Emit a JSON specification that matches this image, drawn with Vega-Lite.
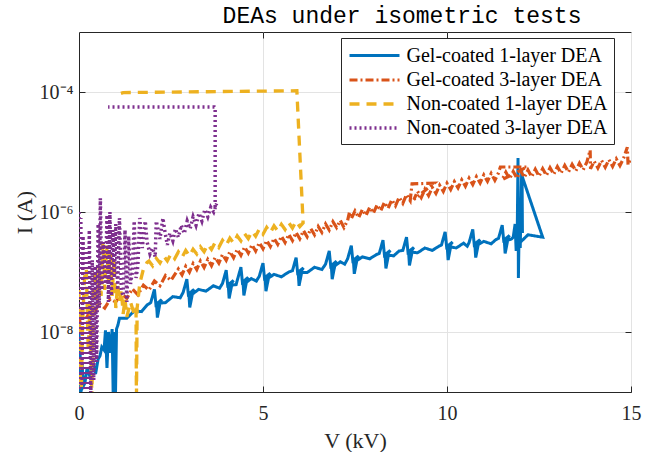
{
"$schema": "https://vega.github.io/schema/vega-lite/v6.json",
"width": 552, "height": 360,
"autosize": "none",
"padding": {"left": 79, "top": 32, "right": 18, "bottom": 60},
"background": "white",
"title": {"text": "DEAs under isometric tests", "font": "Liberation Mono", "fontSize": 23, "fontWeight": "normal", "color": "#000000", "anchor": "middle", "dx": 47, "offset": -14, "baseline": "alphabetic"},
"config": {
  "view": {"stroke": "#262626", "strokeWidth": 1},
  "axis": {"labelFont": "Liberation Serif", "titleFont": "Liberation Serif", "labelFontSize": 20, "titleFontSize": 22, "titleFontWeight": "normal", "labelColor": "#262626", "titleColor": "#262626", "domainColor": "#262626", "tickColor": "#262626", "gridColor": "#e3e3e3", "gridWidth": 1, "tickSize": -6, "tickWidth": 1, "labelFlush": false},
  "legend": {"orient": "none", "legendX": 262, "legendY": 6, "title": null, "symbolType": "M-2.5,0H2.5", "symbolSize": 400, "symbolStrokeWidth": 2.5, "labelFont": "Liberation Serif", "labelFontSize": 20, "labelColor": "#000000", "labelLimit": 300, "strokeColor": "#262626", "fillColor": "#ffffff", "padding": 6, "rowPadding": 2, "labelOffset": 20, "symbolOffset": 15.5}
},
"layer": [
{
"data": {"values": [
{"s":"Gel-coated 1-layer DEA","V":0.00,"I":1.78e-8},{"s":"Gel-coated 1-layer DEA","V":0.01,"I":7.94e-10},{"s":"Gel-coated 1-layer DEA","V":0.03,"I":5.01e-9},{"s":"Gel-coated 1-layer DEA","V":0.05,"I":7.94e-10},{"s":"Gel-coated 1-layer DEA","V":0.08,"I":3.16e-9},{"s":"Gel-coated 1-layer DEA","V":0.12,"I":1.26e-9},{"s":"Gel-coated 1-layer DEA","V":0.16,"I":1.41e-9},{"s":"Gel-coated 1-layer DEA","V":0.22,"I":2.51e-9},{"s":"Gel-coated 1-layer DEA","V":0.30,"I":1.78e-9},{"s":"Gel-coated 1-layer DEA","V":0.38,"I":3.16e-9},{"s":"Gel-coated 1-layer DEA","V":0.45,"I":2.0e-9},{"s":"Gel-coated 1-layer DEA","V":0.52,"I":3.55e-9},{"s":"Gel-coated 1-layer DEA","V":0.57,"I":3.98e-9},{"s":"Gel-coated 1-layer DEA","V":0.62,"I":5.62e-9},{"s":"Gel-coated 1-layer DEA","V":0.68,"I":5.01e-9},{"s":"Gel-coated 1-layer DEA","V":0.72,"I":1.07e-8},{"s":"Gel-coated 1-layer DEA","V":0.76,"I":2.51e-9},{"s":"Gel-coated 1-layer DEA","V":0.80,"I":1.0e-8},{"s":"Gel-coated 1-layer DEA","V":0.85,"I":4.47e-9},{"s":"Gel-coated 1-layer DEA","V":0.90,"I":1.12e-8},{"s":"Gel-coated 1-layer DEA","V":0.93,"I":7.94e-10},{"s":"Gel-coated 1-layer DEA","V":0.96,"I":1.0e-8},{"s":"Gel-coated 1-layer DEA","V":0.99,"I":7.94e-10},{"s":"Gel-coated 1-layer DEA","V":1.02,"I":1.12e-8},{"s":"Gel-coated 1-layer DEA","V":1.06,"I":1.32e-8},{"s":"Gel-coated 1-layer DEA","V":1.10,"I":1.70e-8},{"s":"Gel-coated 1-layer DEA","V":1.30,"I":1.70e-8},{"s":"Gel-coated 1-layer DEA","V":1.50,"I":2.24e-8},{"s":"Gel-coated 1-layer DEA","V":1.70,"I":2.19e-8},{"s":"Gel-coated 1-layer DEA","V":1.85,"I":2.82e-8},
{"s":"Gel-coated 1-layer DEA","V":1.95,"I":3.09e-8},{"s":"Gel-coated 1-layer DEA","V":2.05,"I":5.13e-8},{"s":"Gel-coated 1-layer DEA","V":2.09,"I":2.88e-8},{"s":"Gel-coated 1-layer DEA","V":2.25,"I":3.47e-8},{"s":"Gel-coated 1-layer DEA","V":2.11,"I":2.69e-8},{"s":"Gel-coated 1-layer DEA","V":2.13,"I":1.74e-8},{"s":"Gel-coated 1-layer DEA","V":2.20,"I":3.02e-8},
{"s":"Gel-coated 1-layer DEA","V":2.35,"I":3.09e-8},{"s":"Gel-coated 1-layer DEA","V":2.55,"I":3.89e-8},{"s":"Gel-coated 1-layer DEA","V":2.75,"I":3.72e-8},
{"s":"Gel-coated 1-layer DEA","V":2.83,"I":4.57e-8},{"s":"Gel-coated 1-layer DEA","V":2.93,"I":7.59e-8},{"s":"Gel-coated 1-layer DEA","V":2.97,"I":4.27e-8},{"s":"Gel-coated 1-layer DEA","V":3.13,"I":5.13e-8},{"s":"Gel-coated 1-layer DEA","V":2.99,"I":3.98e-8},{"s":"Gel-coated 1-layer DEA","V":3.01,"I":2.57e-8},{"s":"Gel-coated 1-layer DEA","V":3.08,"I":4.27e-8},
{"s":"Gel-coated 1-layer DEA","V":3.25,"I":5.13e-8},{"s":"Gel-coated 1-layer DEA","V":3.45,"I":4.79e-8},{"s":"Gel-coated 1-layer DEA","V":3.65,"I":5.89e-8},{"s":"Gel-coated 1-layer DEA","V":3.82,"I":5.37e-8},
{"s":"Gel-coated 1-layer DEA","V":3.90,"I":6.46e-8},{"s":"Gel-coated 1-layer DEA","V":4.00,"I":1.07e-7},{"s":"Gel-coated 1-layer DEA","V":4.04,"I":6.03e-8},{"s":"Gel-coated 1-layer DEA","V":4.20,"I":7.24e-8},{"s":"Gel-coated 1-layer DEA","V":4.06,"I":5.62e-8},{"s":"Gel-coated 1-layer DEA","V":4.08,"I":3.63e-8},{"s":"Gel-coated 1-layer DEA","V":4.15,"I":6.03e-8},
{"s":"Gel-coated 1-layer DEA","V":4.27,"I":6.17e-8},
{"s":"Gel-coated 1-layer DEA","V":4.30,"I":7.24e-8},{"s":"Gel-coated 1-layer DEA","V":4.40,"I":1.20e-7},{"s":"Gel-coated 1-layer DEA","V":4.44,"I":6.76e-8},{"s":"Gel-coated 1-layer DEA","V":4.60,"I":8.13e-8},{"s":"Gel-coated 1-layer DEA","V":4.46,"I":6.31e-8},{"s":"Gel-coated 1-layer DEA","V":4.48,"I":4.07e-8},{"s":"Gel-coated 1-layer DEA","V":4.55,"I":6.76e-8},
{"s":"Gel-coated 1-layer DEA","V":4.68,"I":7.76e-8},{"s":"Gel-coated 1-layer DEA","V":4.82,"I":7.08e-8},
{"s":"Gel-coated 1-layer DEA","V":4.90,"I":8.51e-8},{"s":"Gel-coated 1-layer DEA","V":5.00,"I":1.41e-7},{"s":"Gel-coated 1-layer DEA","V":5.04,"I":7.94e-8},{"s":"Gel-coated 1-layer DEA","V":5.20,"I":9.55e-8},{"s":"Gel-coated 1-layer DEA","V":5.06,"I":7.41e-8},{"s":"Gel-coated 1-layer DEA","V":5.08,"I":4.79e-8},{"s":"Gel-coated 1-layer DEA","V":5.15,"I":7.94e-8},
{"s":"Gel-coated 1-layer DEA","V":5.30,"I":9.12e-8},{"s":"Gel-coated 1-layer DEA","V":5.50,"I":8.32e-8},{"s":"Gel-coated 1-layer DEA","V":5.70,"I":1.0e-7},
{"s":"Gel-coated 1-layer DEA","V":5.80,"I":1.05e-7},{"s":"Gel-coated 1-layer DEA","V":5.90,"I":1.74e-7},{"s":"Gel-coated 1-layer DEA","V":5.94,"I":9.77e-8},{"s":"Gel-coated 1-layer DEA","V":6.10,"I":1.17e-7},{"s":"Gel-coated 1-layer DEA","V":5.96,"I":9.12e-8},{"s":"Gel-coated 1-layer DEA","V":5.98,"I":5.89e-8},{"s":"Gel-coated 1-layer DEA","V":6.05,"I":9.77e-8},
{"s":"Gel-coated 1-layer DEA","V":6.20,"I":9.77e-8},{"s":"Gel-coated 1-layer DEA","V":6.40,"I":1.20e-7},{"s":"Gel-coated 1-layer DEA","V":6.60,"I":1.10e-7},
{"s":"Gel-coated 1-layer DEA","V":6.70,"I":1.35e-7},{"s":"Gel-coated 1-layer DEA","V":6.80,"I":2.24e-7},{"s":"Gel-coated 1-layer DEA","V":6.84,"I":1.26e-7},{"s":"Gel-coated 1-layer DEA","V":7.00,"I":1.51e-7},{"s":"Gel-coated 1-layer DEA","V":6.86,"I":1.17e-7},{"s":"Gel-coated 1-layer DEA","V":6.88,"I":7.59e-8},{"s":"Gel-coated 1-layer DEA","V":6.95,"I":1.26e-7},
{"s":"Gel-coated 1-layer DEA","V":7.10,"I":1.48e-7},{"s":"Gel-coated 1-layer DEA","V":7.22,"I":1.35e-7},
{"s":"Gel-coated 1-layer DEA","V":7.30,"I":1.66e-7},{"s":"Gel-coated 1-layer DEA","V":7.40,"I":2.75e-7},{"s":"Gel-coated 1-layer DEA","V":7.44,"I":1.55e-7},{"s":"Gel-coated 1-layer DEA","V":7.60,"I":1.86e-7},{"s":"Gel-coated 1-layer DEA","V":7.46,"I":1.45e-7},{"s":"Gel-coated 1-layer DEA","V":7.48,"I":9.33e-8},{"s":"Gel-coated 1-layer DEA","V":7.55,"I":1.55e-7},
{"s":"Gel-coated 1-layer DEA","V":7.70,"I":1.78e-7},{"s":"Gel-coated 1-layer DEA","V":7.90,"I":1.66e-7},{"s":"Gel-coated 1-layer DEA","V":8.08,"I":1.95e-7},
{"s":"Gel-coated 1-layer DEA","V":8.16,"I":2.04e-7},{"s":"Gel-coated 1-layer DEA","V":8.26,"I":3.39e-7},{"s":"Gel-coated 1-layer DEA","V":8.30,"I":1.91e-7},{"s":"Gel-coated 1-layer DEA","V":8.46,"I":2.29e-7},{"s":"Gel-coated 1-layer DEA","V":8.32,"I":1.78e-7},{"s":"Gel-coated 1-layer DEA","V":8.34,"I":1.15e-7},{"s":"Gel-coated 1-layer DEA","V":8.41,"I":1.91e-7},
{"s":"Gel-coated 1-layer DEA","V":8.55,"I":1.86e-7},{"s":"Gel-coated 1-layer DEA","V":8.70,"I":2.24e-7},
{"s":"Gel-coated 1-layer DEA","V":8.80,"I":2.29e-7},{"s":"Gel-coated 1-layer DEA","V":8.90,"I":3.80e-7},{"s":"Gel-coated 1-layer DEA","V":8.94,"I":2.14e-7},{"s":"Gel-coated 1-layer DEA","V":9.10,"I":2.57e-7},{"s":"Gel-coated 1-layer DEA","V":8.96,"I":2.0e-7},{"s":"Gel-coated 1-layer DEA","V":8.98,"I":1.29e-7},{"s":"Gel-coated 1-layer DEA","V":9.05,"I":2.14e-7},
{"s":"Gel-coated 1-layer DEA","V":9.20,"I":2.09e-7},{"s":"Gel-coated 1-layer DEA","V":9.40,"I":2.51e-7},{"s":"Gel-coated 1-layer DEA","V":9.60,"I":2.29e-7},{"s":"Gel-coated 1-layer DEA","V":9.78,"I":2.69e-7},
{"s":"Gel-coated 1-layer DEA","V":9.85,"I":2.82e-7},{"s":"Gel-coated 1-layer DEA","V":9.95,"I":4.68e-7},{"s":"Gel-coated 1-layer DEA","V":9.99,"I":2.63e-7},{"s":"Gel-coated 1-layer DEA","V":10.15,"I":3.16e-7},{"s":"Gel-coated 1-layer DEA","V":10.01,"I":2.45e-7},{"s":"Gel-coated 1-layer DEA","V":10.03,"I":1.58e-7},{"s":"Gel-coated 1-layer DEA","V":10.10,"I":2.63e-7},
{"s":"Gel-coated 1-layer DEA","V":10.25,"I":2.51e-7},{"s":"Gel-coated 1-layer DEA","V":10.45,"I":3.02e-7},{"s":"Gel-coated 1-layer DEA","V":10.55,"I":2.69e-7},
{"s":"Gel-coated 1-layer DEA","V":10.60,"I":3.09e-7},{"s":"Gel-coated 1-layer DEA","V":10.70,"I":5.13e-7},{"s":"Gel-coated 1-layer DEA","V":10.74,"I":2.88e-7},{"s":"Gel-coated 1-layer DEA","V":10.90,"I":3.47e-7},{"s":"Gel-coated 1-layer DEA","V":10.76,"I":2.69e-7},{"s":"Gel-coated 1-layer DEA","V":10.78,"I":1.74e-7},{"s":"Gel-coated 1-layer DEA","V":10.85,"I":2.88e-7},
{"s":"Gel-coated 1-layer DEA","V":11.00,"I":3.24e-7},{"s":"Gel-coated 1-layer DEA","V":11.20,"I":2.95e-7},{"s":"Gel-coated 1-layer DEA","V":11.33,"I":3.47e-7},
{"s":"Gel-coated 1-layer DEA","V":11.40,"I":3.63e-7},{"s":"Gel-coated 1-layer DEA","V":11.50,"I":6.03e-7},{"s":"Gel-coated 1-layer DEA","V":11.54,"I":3.39e-7},{"s":"Gel-coated 1-layer DEA","V":11.70,"I":4.07e-7},{"s":"Gel-coated 1-layer DEA","V":11.56,"I":3.16e-7},{"s":"Gel-coated 1-layer DEA","V":11.58,"I":2.04e-7},{"s":"Gel-coated 1-layer DEA","V":11.65,"I":3.39e-7},
{"s":"Gel-coated 1-layer DEA","V":11.75,"I":3.55e-7},{"s":"Gel-coated 1-layer DEA","V":11.80,"I":3.80e-7},
{"s":"Gel-coated 1-layer DEA","V":11.85,"I":6.31e-7},{"s":"Gel-coated 1-layer DEA","V":11.88,"I":2.24e-7},{"s":"Gel-coated 1-layer DEA","V":11.91,"I":5.62e-7},{"s":"Gel-coated 1-layer DEA","V":11.93,"I":7.94e-6},{"s":"Gel-coated 1-layer DEA","V":11.94,"I":7.94e-8},{"s":"Gel-coated 1-layer DEA","V":11.96,"I":5.01e-7},{"s":"Gel-coated 1-layer DEA","V":11.99,"I":2.51e-7},{"s":"Gel-coated 1-layer DEA","V":12.03,"I":5.01e-6},{"s":"Gel-coated 1-layer DEA","V":12.05,"I":4.47e-7},{"s":"Gel-coated 1-layer DEA","V":12.04,"I":3.98e-6},{"s":"Gel-coated 1-layer DEA","V":12.60,"I":3.80e-7},{"s":"Gel-coated 1-layer DEA","V":12.20,"I":4.17e-7},{"s":"Gel-coated 1-layer DEA","V":12.00,"I":3.16e-7},{"s":"Gel-coated 1-layer DEA","V":11.95,"I":3.98e-7},

{"s":"Gel-coated 3-layer DEA","V":0.00,"I":1.78e-8},{"s":"Gel-coated 3-layer DEA","V":0.05,"I":1.26e-8},{"s":"Gel-coated 3-layer DEA","V":0.10,"I":2.09e-8},{"s":"Gel-coated 3-layer DEA","V":0.20,"I":1.58e-8},{"s":"Gel-coated 3-layer DEA","V":0.30,"I":2.51e-8},{"s":"Gel-coated 3-layer DEA","V":0.43,"I":2.19e-8},{"s":"Gel-coated 3-layer DEA","V":0.55,"I":3.02e-8},{"s":"Gel-coated 3-layer DEA","V":0.70,"I":2.51e-8},{"s":"Gel-coated 3-layer DEA","V":0.85,"I":3.55e-8},{"s":"Gel-coated 3-layer DEA","V":1.00,"I":3.16e-8},{"s":"Gel-coated 3-layer DEA","V":1.15,"I":4.37e-8},{"s":"Gel-coated 3-layer DEA","V":1.30,"I":3.63e-8},{"s":"Gel-coated 3-layer DEA","V":1.45,"I":5.25e-8},{"s":"Gel-coated 3-layer DEA","V":1.60,"I":4.17e-8},{"s":"Gel-coated 3-layer DEA","V":1.75,"I":6.03e-8},{"s":"Gel-coated 3-layer DEA","V":1.90,"I":5.01e-8},{"s":"Gel-coated 3-layer DEA","V":2.05,"I":7.08e-8},{"s":"Gel-coated 3-layer DEA","V":2.20,"I":5.89e-8},{"s":"Gel-coated 3-layer DEA","V":2.35,"I":8.71e-8},{"s":"Gel-coated 3-layer DEA","V":2.50,"I":7.24e-8},
{"s":"Gel-coated 3-layer DEA","V":2.70,"I":1.12e-7},{"s":"Gel-coated 3-layer DEA","V":2.80,"I":8.97e-8},{"s":"Gel-coated 3-layer DEA","V":2.90,"I":1.24e-7},{"s":"Gel-coated 3-layer DEA","V":3.00,"I":9.93e-8},{"s":"Gel-coated 3-layer DEA","V":3.10,"I":1.38e-7},{"s":"Gel-coated 3-layer DEA","V":3.20,"I":1.10e-7},{"s":"Gel-coated 3-layer DEA","V":3.30,"I":1.52e-7},{"s":"Gel-coated 3-layer DEA","V":3.40,"I":1.19e-7},{"s":"Gel-coated 3-layer DEA","V":3.50,"I":1.62e-7},{"s":"Gel-coated 3-layer DEA","V":3.60,"I":1.27e-7},{"s":"Gel-coated 3-layer DEA","V":3.70,"I":1.75e-7},{"s":"Gel-coated 3-layer DEA","V":3.80,"I":1.41e-7},{"s":"Gel-coated 3-layer DEA","V":3.90,"I":1.96e-7},{"s":"Gel-coated 3-layer DEA","V":4.00,"I":1.57e-7},{"s":"Gel-coated 3-layer DEA","V":4.10,"I":2.19e-7},{"s":"Gel-coated 3-layer DEA","V":4.20,"I":1.73e-7},{"s":"Gel-coated 3-layer DEA","V":4.30,"I":2.39e-7},{"s":"Gel-coated 3-layer DEA","V":4.40,"I":1.90e-7},{"s":"Gel-coated 3-layer DEA","V":4.50,"I":2.61e-7},{"s":"Gel-coated 3-layer DEA","V":4.60,"I":2.07e-7},{"s":"Gel-coated 3-layer DEA","V":4.70,"I":2.84e-7},{"s":"Gel-coated 3-layer DEA","V":4.80,"I":2.24e-7},{"s":"Gel-coated 3-layer DEA","V":4.90,"I":3.08e-7},{"s":"Gel-coated 3-layer DEA","V":5.00,"I":2.44e-7},{"s":"Gel-coated 3-layer DEA","V":5.10,"I":3.35e-7},{"s":"Gel-coated 3-layer DEA","V":5.20,"I":2.65e-7},{"s":"Gel-coated 3-layer DEA","V":5.30,"I":3.64e-7},{"s":"Gel-coated 3-layer DEA","V":5.40,"I":2.88e-7},{"s":"Gel-coated 3-layer DEA","V":5.50,"I":3.94e-7},{"s":"Gel-coated 3-layer DEA","V":5.60,"I":3.10e-7},{"s":"Gel-coated 3-layer DEA","V":5.70,"I":4.24e-7},{"s":"Gel-coated 3-layer DEA","V":5.80,"I":3.33e-7},{"s":"Gel-coated 3-layer DEA","V":5.90,"I":4.56e-7},{"s":"Gel-coated 3-layer DEA","V":6.00,"I":3.58e-7},{"s":"Gel-coated 3-layer DEA","V":6.10,"I":4.90e-7},{"s":"Gel-coated 3-layer DEA","V":6.20,"I":3.85e-7},{"s":"Gel-coated 3-layer DEA","V":6.30,"I":5.26e-7},{"s":"Gel-coated 3-layer DEA","V":6.40,"I":4.15e-7},{"s":"Gel-coated 3-layer DEA","V":6.50,"I":5.73e-7},{"s":"Gel-coated 3-layer DEA","V":6.60,"I":4.56e-7},{"s":"Gel-coated 3-layer DEA","V":6.70,"I":6.30e-7},{"s":"Gel-coated 3-layer DEA","V":6.80,"I":5.00e-7},{"s":"Gel-coated 3-layer DEA","V":6.90,"I":6.92e-7},{"s":"Gel-coated 3-layer DEA","V":7.00,"I":5.50e-7},{"s":"Gel-coated 3-layer DEA","V":7.10,"I":7.24e-7},{"s":"Gel-coated 3-layer DEA","V":7.20,"I":5.50e-7},{"s":"Gel-coated 3-layer DEA","V":7.30,"I":7.24e-7},{"s":"Gel-coated 3-layer DEA","V":7.35,"I":1.0e-6},{"s":"Gel-coated 3-layer DEA","V":7.40,"I":7.76e-7},{"s":"Gel-coated 3-layer DEA","V":7.50,"I":1.04e-6},{"s":"Gel-coated 3-layer DEA","V":7.60,"I":8.07e-7},{"s":"Gel-coated 3-layer DEA","V":7.70,"I":1.10e-6},{"s":"Gel-coated 3-layer DEA","V":7.80,"I":8.73e-7},{"s":"Gel-coated 3-layer DEA","V":7.90,"I":1.20e-6},{"s":"Gel-coated 3-layer DEA","V":8.00,"I":9.57e-7},{"s":"Gel-coated 3-layer DEA","V":8.10,"I":1.32e-6},{"s":"Gel-coated 3-layer DEA","V":8.20,"I":1.05e-6},{"s":"Gel-coated 3-layer DEA","V":8.30,"I":1.45e-6},{"s":"Gel-coated 3-layer DEA","V":8.40,"I":1.15e-6},{"s":"Gel-coated 3-layer DEA","V":8.50,"I":1.60e-6},{"s":"Gel-coated 3-layer DEA","V":8.60,"I":1.27e-6},{"s":"Gel-coated 3-layer DEA","V":8.70,"I":1.76e-6},{"s":"Gel-coated 3-layer DEA","V":8.80,"I":1.40e-6},{"s":"Gel-coated 3-layer DEA","V":8.90,"I":1.95e-6},{"s":"Gel-coated 3-layer DEA","V":9.00,"I":1.55e-6},{"s":"Gel-coated 3-layer DEA","V":9.05,"I":2.95e-6},{"s":"Gel-coated 3-layer DEA","V":9.65,"I":3.02e-6},{"s":"Gel-coated 3-layer DEA","V":9.10,"I":1.61e-6},{"s":"Gel-coated 3-layer DEA","V":9.20,"I":2.21e-6},{"s":"Gel-coated 3-layer DEA","V":9.30,"I":1.74e-6},{"s":"Gel-coated 3-layer DEA","V":9.40,"I":2.39e-6},{"s":"Gel-coated 3-layer DEA","V":9.50,"I":1.88e-6},{"s":"Gel-coated 3-layer DEA","V":9.60,"I":2.58e-6},{"s":"Gel-coated 3-layer DEA","V":9.70,"I":2.04e-6},{"s":"Gel-coated 3-layer DEA","V":9.80,"I":2.79e-6},{"s":"Gel-coated 3-layer DEA","V":9.90,"I":2.20e-6},{"s":"Gel-coated 3-layer DEA","V":10.00,"I":3.02e-6},{"s":"Gel-coated 3-layer DEA","V":10.10,"I":2.37e-6},{"s":"Gel-coated 3-layer DEA","V":10.20,"I":3.21e-6},{"s":"Gel-coated 3-layer DEA","V":10.30,"I":2.52e-6},{"s":"Gel-coated 3-layer DEA","V":10.40,"I":3.43e-6},{"s":"Gel-coated 3-layer DEA","V":10.50,"I":2.68e-6},{"s":"Gel-coated 3-layer DEA","V":10.60,"I":3.65e-6},{"s":"Gel-coated 3-layer DEA","V":10.70,"I":2.86e-6},{"s":"Gel-coated 3-layer DEA","V":10.80,"I":3.88e-6},{"s":"Gel-coated 3-layer DEA","V":10.90,"I":3.04e-6},{"s":"Gel-coated 3-layer DEA","V":11.00,"I":4.14e-6},{"s":"Gel-coated 3-layer DEA","V":11.10,"I":3.24e-6},{"s":"Gel-coated 3-layer DEA","V":11.20,"I":4.39e-6},{"s":"Gel-coated 3-layer DEA","V":11.30,"I":3.37e-6},{"s":"Gel-coated 3-layer DEA","V":11.40,"I":4.50e-6},{"s":"Gel-coated 3-layer DEA","V":11.45,"I":5.62e-6},{"s":"Gel-coated 3-layer DEA","V":12.17,"I":5.62e-6},{"s":"Gel-coated 3-layer DEA","V":11.50,"I":3.46e-6},{"s":"Gel-coated 3-layer DEA","V":11.60,"I":4.62e-6},{"s":"Gel-coated 3-layer DEA","V":11.70,"I":3.56e-6},{"s":"Gel-coated 3-layer DEA","V":11.80,"I":4.75e-6},{"s":"Gel-coated 3-layer DEA","V":11.90,"I":3.65e-6},{"s":"Gel-coated 3-layer DEA","V":12.00,"I":4.88e-6},{"s":"Gel-coated 3-layer DEA","V":12.10,"I":3.75e-6},{"s":"Gel-coated 3-layer DEA","V":12.20,"I":5.01e-6},{"s":"Gel-coated 3-layer DEA","V":12.30,"I":3.85e-6},{"s":"Gel-coated 3-layer DEA","V":12.40,"I":5.14e-6},{"s":"Gel-coated 3-layer DEA","V":12.50,"I":3.95e-6},{"s":"Gel-coated 3-layer DEA","V":12.60,"I":5.28e-6},{"s":"Gel-coated 3-layer DEA","V":12.70,"I":4.06e-6},{"s":"Gel-coated 3-layer DEA","V":12.80,"I":5.47e-6},{"s":"Gel-coated 3-layer DEA","V":12.90,"I":4.24e-6},{"s":"Gel-coated 3-layer DEA","V":13.00,"I":5.70e-6},{"s":"Gel-coated 3-layer DEA","V":13.10,"I":4.43e-6},{"s":"Gel-coated 3-layer DEA","V":13.20,"I":5.96e-6},{"s":"Gel-coated 3-layer DEA","V":13.30,"I":4.62e-6},{"s":"Gel-coated 3-layer DEA","V":13.40,"I":6.22e-6},{"s":"Gel-coated 3-layer DEA","V":13.50,"I":4.82e-6},{"s":"Gel-coated 3-layer DEA","V":13.60,"I":6.50e-6},{"s":"Gel-coated 3-layer DEA","V":13.70,"I":5.04e-6},{"s":"Gel-coated 3-layer DEA","V":13.80,"I":6.79e-6},{"s":"Gel-coated 3-layer DEA","V":13.89,"I":1.07e-5},{"s":"Gel-coated 3-layer DEA","V":13.90,"I":5.26e-6},{"s":"Gel-coated 3-layer DEA","V":14.00,"I":7.03e-6},{"s":"Gel-coated 3-layer DEA","V":14.10,"I":5.42e-6},{"s":"Gel-coated 3-layer DEA","V":14.20,"I":7.24e-6},{"s":"Gel-coated 3-layer DEA","V":14.30,"I":5.58e-6},{"s":"Gel-coated 3-layer DEA","V":14.40,"I":7.46e-6},{"s":"Gel-coated 3-layer DEA","V":14.50,"I":5.75e-6},{"s":"Gel-coated 3-layer DEA","V":14.60,"I":7.69e-6},{"s":"Gel-coated 3-layer DEA","V":14.70,"I":5.93e-6},{"s":"Gel-coated 3-layer DEA","V":14.80,"I":7.93e-6},{"s":"Gel-coated 3-layer DEA","V":14.90,"I":1.20e-5},{"s":"Gel-coated 3-layer DEA","V":14.92,"I":6.12e-6},{"s":"Gel-coated 3-layer DEA","V":15.00,"I":7.94e-6},

{"s":"Non-coated 1-layer DEA","V":0.00,"I":5.01e-8},{"s":"Non-coated 1-layer DEA","V":0.03,"I":2.51e-9},{"s":"Non-coated 1-layer DEA","V":0.06,"I":7.94e-10},{"s":"Non-coated 1-layer DEA","V":0.10,"I":1.58e-8},{"s":"Non-coated 1-layer DEA","V":0.15,"I":7.94e-8},{"s":"Non-coated 1-layer DEA","V":0.20,"I":1.12e-7},{"s":"Non-coated 1-layer DEA","V":0.25,"I":5.01e-9},{"s":"Non-coated 1-layer DEA","V":0.30,"I":3.16e-8},{"s":"Non-coated 1-layer DEA","V":0.35,"I":7.94e-10},{"s":"Non-coated 1-layer DEA","V":0.40,"I":6.31e-8},{"s":"Non-coated 1-layer DEA","V":0.45,"I":1.12e-7},{"s":"Non-coated 1-layer DEA","V":0.50,"I":2.51e-8},{"s":"Non-coated 1-layer DEA","V":0.55,"I":1.26e-7},{"s":"Non-coated 1-layer DEA","V":0.60,"I":3.98e-8},{"s":"Non-coated 1-layer DEA","V":0.65,"I":3.16e-7},{"s":"Non-coated 1-layer DEA","V":0.70,"I":5.01e-8},{"s":"Non-coated 1-layer DEA","V":0.75,"I":2.82e-7},{"s":"Non-coated 1-layer DEA","V":0.80,"I":6.31e-8},{"s":"Non-coated 1-layer DEA","V":0.85,"I":2.0e-7},{"s":"Non-coated 1-layer DEA","V":0.90,"I":3.98e-8},{"s":"Non-coated 1-layer DEA","V":0.95,"I":1.58e-7},{"s":"Non-coated 1-layer DEA","V":1.00,"I":2.51e-8},{"s":"Non-coated 1-layer DEA","V":1.05,"I":6.31e-8},{"s":"Non-coated 1-layer DEA","V":1.10,"I":3.16e-8},{"s":"Non-coated 1-layer DEA","V":1.15,"I":5.01e-8},{"s":"Non-coated 1-layer DEA","V":1.20,"I":2.0e-8},{"s":"Non-coated 1-layer DEA","V":1.25,"I":3.55e-8},{"s":"Non-coated 1-layer DEA","V":1.30,"I":1.78e-8},{"s":"Non-coated 1-layer DEA","V":1.40,"I":3.16e-8},{"s":"Non-coated 1-layer DEA","V":1.50,"I":2.0e-8},{"s":"Non-coated 1-layer DEA","V":1.55,"I":2.51e-8},{"s":"Non-coated 1-layer DEA","V":1.56,"I":6.31e-10},{"s":"Non-coated 1-layer DEA","V":1.58,"I":2.51e-8},{"s":"Non-coated 1-layer DEA","V":1.65,"I":6.31e-8},{"s":"Non-coated 1-layer DEA","V":1.75,"I":1.12e-7},{"s":"Non-coated 1-layer DEA","V":1.85,"I":1.45e-7},
{"s":"Non-coated 1-layer DEA","V":1.90,"I":1.52e-7},{"s":"Non-coated 1-layer DEA","V":2.00,"I":1.27e-7},{"s":"Non-coated 1-layer DEA","V":2.10,"I":1.69e-7},{"s":"Non-coated 1-layer DEA","V":2.20,"I":1.41e-7},{"s":"Non-coated 1-layer DEA","V":2.30,"I":1.85e-7},{"s":"Non-coated 1-layer DEA","V":2.40,"I":1.53e-7},{"s":"Non-coated 1-layer DEA","V":2.50,"I":2.00e-7},{"s":"Non-coated 1-layer DEA","V":2.60,"I":1.66e-7},{"s":"Non-coated 1-layer DEA","V":2.70,"I":2.16e-7},{"s":"Non-coated 1-layer DEA","V":2.80,"I":1.76e-7},{"s":"Non-coated 1-layer DEA","V":2.90,"I":2.28e-7},{"s":"Non-coated 1-layer DEA","V":3.00,"I":1.86e-7},{"s":"Non-coated 1-layer DEA","V":3.10,"I":2.40e-7},{"s":"Non-coated 1-layer DEA","V":3.20,"I":2.00e-7},{"s":"Non-coated 1-layer DEA","V":3.30,"I":2.62e-7},{"s":"Non-coated 1-layer DEA","V":3.40,"I":2.18e-7},{"s":"Non-coated 1-layer DEA","V":3.50,"I":2.87e-7},{"s":"Non-coated 1-layer DEA","V":3.60,"I":2.38e-7},{"s":"Non-coated 1-layer DEA","V":3.70,"I":3.12e-7},{"s":"Non-coated 1-layer DEA","V":3.80,"I":2.58e-7},{"s":"Non-coated 1-layer DEA","V":3.90,"I":3.38e-7},{"s":"Non-coated 1-layer DEA","V":4.00,"I":2.80e-7},{"s":"Non-coated 1-layer DEA","V":4.10,"I":3.67e-7},{"s":"Non-coated 1-layer DEA","V":4.20,"I":3.04e-7},{"s":"Non-coated 1-layer DEA","V":4.30,"I":3.99e-7},{"s":"Non-coated 1-layer DEA","V":4.40,"I":3.30e-7},{"s":"Non-coated 1-layer DEA","V":4.50,"I":4.35e-7},{"s":"Non-coated 1-layer DEA","V":4.60,"I":3.61e-7},{"s":"Non-coated 1-layer DEA","V":4.70,"I":4.75e-7},{"s":"Non-coated 1-layer DEA","V":4.80,"I":3.95e-7},{"s":"Non-coated 1-layer DEA","V":4.90,"I":5.20e-7},{"s":"Non-coated 1-layer DEA","V":5.00,"I":4.27e-7},{"s":"Non-coated 1-layer DEA","V":5.10,"I":5.53e-7},{"s":"Non-coated 1-layer DEA","V":5.20,"I":4.54e-7},{"s":"Non-coated 1-layer DEA","V":5.30,"I":5.89e-7},{"s":"Non-coated 1-layer DEA","V":5.40,"I":4.82e-7},{"s":"Non-coated 1-layer DEA","V":5.50,"I":6.24e-7},{"s":"Non-coated 1-layer DEA","V":5.60,"I":5.11e-7},{"s":"Non-coated 1-layer DEA","V":5.70,"I":6.62e-7},{"s":"Non-coated 1-layer DEA","V":5.80,"I":5.41e-7},{"s":"Non-coated 1-layer DEA","V":5.90,"I":7.01e-7},{"s":"Non-coated 1-layer DEA","V":6.00,"I":5.74e-7},{"s":"Non-coated 1-layer DEA","V":6.09,"I":6.61e-7},{"s":"Non-coated 1-layer DEA","V":5.92,"I":1.05e-4},{"s":"Non-coated 1-layer DEA","V":1.20,"I":9.77e-5},{"s":"Non-coated 1-layer DEA","V":1.11,"I":9.33e-5},

{"s":"Non-coated 3-layer DEA","V":0.00,"I":1.0e-6},{"s":"Non-coated 3-layer DEA","V":0.02,"I":7.94e-10},{"s":"Non-coated 3-layer DEA","V":0.05,"I":7.94e-7},{"s":"Non-coated 3-layer DEA","V":0.08,"I":1.26e-9},{"s":"Non-coated 3-layer DEA","V":0.11,"I":3.98e-7},{"s":"Non-coated 3-layer DEA","V":0.16,"I":7.94e-10},{"s":"Non-coated 3-layer DEA","V":0.20,"I":2.51e-7},{"s":"Non-coated 3-layer DEA","V":0.24,"I":7.94e-10},{"s":"Non-coated 3-layer DEA","V":0.28,"I":5.01e-7},{"s":"Non-coated 3-layer DEA","V":0.32,"I":7.94e-10},{"s":"Non-coated 3-layer DEA","V":0.36,"I":1.58e-7},{"s":"Non-coated 3-layer DEA","V":0.40,"I":1.58e-9},{"s":"Non-coated 3-layer DEA","V":0.44,"I":1.26e-7},{"s":"Non-coated 3-layer DEA","V":0.48,"I":3.16e-9},{"s":"Non-coated 3-layer DEA","V":0.52,"I":6.31e-7},{"s":"Non-coated 3-layer DEA","V":0.55,"I":2.51e-8},{"s":"Non-coated 3-layer DEA","V":0.58,"I":1.70e-6},{"s":"Non-coated 3-layer DEA","V":0.62,"I":5.01e-8},{"s":"Non-coated 3-layer DEA","V":0.66,"I":3.16e-7},{"s":"Non-coated 3-layer DEA","V":0.72,"I":6.31e-8},{"s":"Non-coated 3-layer DEA","V":0.76,"I":8.91e-7},{"s":"Non-coated 3-layer DEA","V":0.80,"I":3.16e-8},{"s":"Non-coated 3-layer DEA","V":0.84,"I":1.0e-6},{"s":"Non-coated 3-layer DEA","V":0.88,"I":3.98e-8},{"s":"Non-coated 3-layer DEA","V":0.92,"I":5.01e-7},{"s":"Non-coated 3-layer DEA","V":0.96,"I":7.94e-8},{"s":"Non-coated 3-layer DEA","V":1.00,"I":6.31e-7},{"s":"Non-coated 3-layer DEA","V":1.05,"I":5.01e-8},{"s":"Non-coated 3-layer DEA","V":1.10,"I":7.94e-7},{"s":"Non-coated 3-layer DEA","V":1.15,"I":5.01e-8},{"s":"Non-coated 3-layer DEA","V":1.20,"I":3.98e-8},{"s":"Non-coated 3-layer DEA","V":1.25,"I":5.01e-7},{"s":"Non-coated 3-layer DEA","V":1.30,"I":3.16e-8},{"s":"Non-coated 3-layer DEA","V":1.35,"I":3.98e-7},{"s":"Non-coated 3-layer DEA","V":1.40,"I":6.31e-8},{"s":"Non-coated 3-layer DEA","V":1.45,"I":1.0e-7},{"s":"Non-coated 3-layer DEA","V":1.50,"I":7.08e-7},{"s":"Non-coated 3-layer DEA","V":1.55,"I":7.94e-8},{"s":"Non-coated 3-layer DEA","V":1.60,"I":1.26e-7},{"s":"Non-coated 3-layer DEA","V":1.65,"I":7.94e-7},{"s":"Non-coated 3-layer DEA","V":1.72,"I":2.51e-7},{"s":"Non-coated 3-layer DEA","V":1.80,"I":7.08e-7},{"s":"Non-coated 3-layer DEA","V":1.85,"I":3.16e-7},{"s":"Non-coated 3-layer DEA","V":1.93,"I":2.0e-7},{"s":"Non-coated 3-layer DEA","V":2.00,"I":2.51e-7},{"s":"Non-coated 3-layer DEA","V":2.07,"I":1.78e-7},{"s":"Non-coated 3-layer DEA","V":2.10,"I":7.08e-7},{"s":"Non-coated 3-layer DEA","V":2.20,"I":3.55e-7},{"s":"Non-coated 3-layer DEA","V":2.28,"I":7.94e-7},{"s":"Non-coated 3-layer DEA","V":2.34,"I":4.47e-7},{"s":"Non-coated 3-layer DEA","V":2.40,"I":2.82e-7},{"s":"Non-coated 3-layer DEA","V":2.47,"I":4.47e-7},{"s":"Non-coated 3-layer DEA","V":2.55,"I":3.31e-7},{"s":"Non-coated 3-layer DEA","V":2.62,"I":5.25e-7},{"s":"Non-coated 3-layer DEA","V":2.70,"I":3.80e-7},{"s":"Non-coated 3-layer DEA","V":2.78,"I":6.03e-7},{"s":"Non-coated 3-layer DEA","V":2.86,"I":4.37e-7},{"s":"Non-coated 3-layer DEA","V":2.94,"I":7.08e-7},{"s":"Non-coated 3-layer DEA","V":3.02,"I":5.25e-7},{"s":"Non-coated 3-layer DEA","V":3.10,"I":8.32e-7},{"s":"Non-coated 3-layer DEA","V":3.18,"I":6.03e-7},{"s":"Non-coated 3-layer DEA","V":3.26,"I":9.55e-7},{"s":"Non-coated 3-layer DEA","V":3.34,"I":7.08e-7},{"s":"Non-coated 3-layer DEA","V":3.42,"I":1.10e-6},{"s":"Non-coated 3-layer DEA","V":3.50,"I":8.32e-7},{"s":"Non-coated 3-layer DEA","V":3.58,"I":1.20e-6},{"s":"Non-coated 3-layer DEA","V":3.66,"I":1.0e-6},{"s":"Non-coated 3-layer DEA","V":3.74,"I":1.38e-6},{"s":"Non-coated 3-layer DEA","V":3.70,"I":1.20e-6},{"s":"Non-coated 3-layer DEA","V":3.70,"I":5.37e-5},{"s":"Non-coated 3-layer DEA","V":3.68,"I":5.62e-5},{"s":"Non-coated 3-layer DEA","V":0.79,"I":5.62e-5}
]},
"mark": {"type": "line", "clip": true, "strokeCap": "butt", "strokeJoin": "miter"},
"encoding": {
  "x": {"field": "V", "type": "quantitative", "scale": {"domain": [0, 15], "nice": false, "zero": false}, "axis": {"values": [0, 5, 10, 15], "title": "V (kV)", "labelPadding": 17, "titlePadding": 7, "grid": true}},
  "y": {"field": "I", "type": "quantitative", "scale": {"type": "log", "domain": [1e-9, 1e-3], "nice": false}, "axis": {"values": [1e-8, 1e-6, 1e-4], "labelExpr": "datum.value < 1e-7 ? '10⁻⁸' : (datum.value < 1e-5 ? '10⁻⁶' : '10⁻⁴')", "title": "I (A)", "labelPadding": 12, "titlePadding": 3, "grid": true}},
  "color": {"field": "s", "type": "nominal", "scale": {"domain": ["Gel-coated 1-layer DEA", "Gel-coated 3-layer DEA", "Non-coated 1-layer DEA", "Non-coated 3-layer DEA"], "range": ["#0072BD", "#D95319", "#EDB120", "#7E2F8E"]}, "legend": {"title": null}},
  "strokeDash": {"field": "s", "type": "nominal", "scale": {"domain": ["Gel-coated 1-layer DEA", "Gel-coated 3-layer DEA", "Non-coated 1-layer DEA", "Non-coated 3-layer DEA"], "range": [[1, 0], [8, 3, 2, 3], [10, 7], [2, 3]]}, "legend": {"title": null}},
  "strokeWidth": {"field": "s", "type": "nominal", "scale": {"domain": ["Gel-coated 1-layer DEA", "Gel-coated 3-layer DEA", "Non-coated 1-layer DEA", "Non-coated 3-layer DEA"], "range": [3, 3.5, 3, 2.75]}, "legend": null},
  "order": {"value": null}
}
},
{
"data": {"values": [{"V": 0, "I": 1e-9}]},
"mark": {"type": "point", "opacity": 0},
"encoding": {
  "x": {"field": "V", "type": "quantitative", "scale": {"domain": [0, 15], "nice": false, "zero": false}, "axis": {"orient": "top", "values": [5, 10], "labels": false, "title": null, "grid": false, "domain": false, "minExtent": 0, "maxExtent": 0}},
  "y": {"field": "I", "type": "quantitative", "scale": {"type": "log", "domain": [1e-9, 1e-3], "nice": false}, "axis": {"orient": "right", "values": [1e-8, 1e-6, 1e-4], "labels": false, "title": null, "grid": false, "domain": false, "minExtent": 0, "maxExtent": 0}}
}
}
],
"resolve": {"axis": {"x": "independent", "y": "independent"}}
}
